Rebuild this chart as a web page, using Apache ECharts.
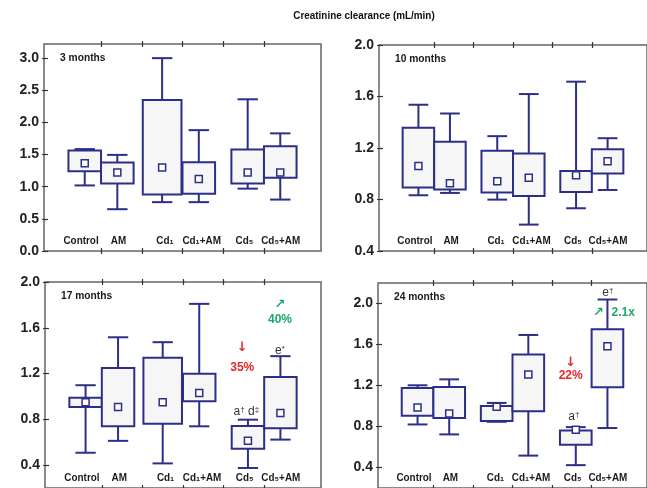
<!DOCTYPE html>
<html><head><meta charset="utf-8">
<script src="https://cdn.jsdelivr.net/npm/echarts@6/dist/echarts.min.js"></script>
<style>html,body{margin:0;padding:0;background:#fff}#c{width:647px;height:488px}</style>
</head><body><div id="c"></div>
<script>
// ---------- data ----------
const chartTitle = 'Creatinine clearance (mL/min)';
const panelNames = ['3 months', '10 months', '17 months', '24 months'];
const groups = ['Control', 'AM', 'Cd\u2081', 'Cd\u2081+AM', 'Cd\u2085', 'Cd\u2085+AM'];
// each row: [min, Q1, Q3, max, marker]
const m3 = [
  [1.02, 1.24, 1.565, 1.585, 1.365],
  [0.65, 1.05, 1.375, 1.495, 1.22],
  [0.76, 0.88, 2.35, 3.00, 1.30],
  [0.76, 0.89, 1.38, 1.88, 1.12],
  [0.97, 1.05, 1.58, 2.36, 1.22],
  [0.80, 1.14, 1.63, 1.83, 1.22]
];
const m10 = [
  [0.833, 0.893, 1.357, 1.536, 1.061],
  [0.851, 0.877, 1.248, 1.468, 0.926],
  [0.799, 0.854, 1.178, 1.292, 0.942],
  [0.605, 0.828, 1.157, 1.619, 0.968],
  [0.732, 0.859, 1.022, 1.715, 0.989],
  [0.874, 1.002, 1.191, 1.276, 1.098]
];
const m17 = [
  [0.508, 0.907, 0.988, 1.098, 0.950],
  [0.612, 0.739, 1.248, 1.517, 0.907],
  [0.415, 0.762, 1.338, 1.474, 0.950],
  [0.739, 0.959, 1.199, 1.809, 1.031],
  [0.375, 0.543, 0.742, 0.797, 0.612],
  [0.623, 0.722, 1.170, 1.352, 0.855]
];
const m24 = [
  [0.820, 0.904, 1.176, 1.202, 0.985],
  [0.723, 0.882, 1.186, 1.260, 0.927],
  [0.846, 0.853, 1.001, 1.030, 0.992],
  [0.516, 0.950, 1.502, 1.693, 1.308],
  [0.423, 0.623, 0.762, 0.794, 0.769],
  [0.785, 1.182, 1.748, 2.039, 1.583]
];
const yTicks3m = [0, 0.5, 1.0, 1.5, 2.0, 2.5, 3.0];
const yTicksLater = [0.4, 0.8, 1.2, 1.6, 2.0];
const xTicks = [1, 2, 3, 4, 5];
// annotations: [text, kind]
const notes17 = [['\u2193', 'down'], ['35%', 'down'], ['\u2197', 'up'], ['40%', 'up'], ['e*', 'sig'], ['a\u2020 d\u2021', 'sig']];
const notes24 = [['e\u2020', 'sig'], ['\u2197', 'up'], ['2.1x', 'up'], ['\u2193', 'down'], ['22%', 'down'], ['a\u2020', 'sig']];

// ---------- layout / style ----------
const notePos17 = [[4.46, 1.43], [4.46, 1.253], [5.39, 1.80], [5.39, 1.67], [5.39, 1.40], [4.56, 0.863]];
const notePos24 = [[5.41, 2.107], [5.17, 1.913], [5.80, 1.913], [4.47, 1.42], [4.47, 1.292], [4.55, 0.894]];
const labelPos = [0.51, 1.43, 2.57, 3.47, 4.52, 5.41];
const NAVY = '#2b2f88';
const FONT = "'Liberation Sans',Arial,sans-serif";
const panels = [
  {rows: m3,  yTicks: yTicks3m,    ymin: 0,   ymax: 3.22, left: 44,  top: 44,  width: 277, height: 207, notes: [], pos: [], wide: true},
  {rows: m10, yTicks: yTicksLater, ymin: 0.4, ymax: 2.0,  left: 379, top: 45,  width: 275, height: 206, notes: [], pos: [], wide: false},
  {rows: m17, yTicks: yTicksLater, ymin: 0.2, ymax: 2.0,  left: 45,  top: 282, width: 276, height: 207, notes: notes17, pos: notePos17, wide: true},
  {rows: m24, yTicks: yTicksLater, ymin: 0.2, ymax: 2.2,  left: 378, top: 283, width: 276, height: 206, notes: notes24, pos: notePos24, wide: false}
];
const noteColor = {down: '#e3262b', up: '#1ea86a', sig: '#333'};

function boxX(i) { return (Math.floor(i / 2) * 2 + 1) + (i % 2 ? 0.4 : -0.4); }

function renderBox(params, api) {
  const x = api.value(0), lo = api.value(1), q1 = api.value(2), q3 = api.value(3), hi = api.value(4), mk = api.value(5), w = api.value(6);
  const cx = api.coord([x, q1])[0];
  const yLo = api.coord([x, lo])[1], yQ1 = api.coord([x, q1])[1], yQ3 = api.coord([x, q3])[1], yHi = api.coord([x, hi])[1], yMk = api.coord([x, mk])[1];
  const hw = api.size([w, 0])[0] / 2, cw = api.size([0.5, 0])[0] / 2;
  const ls = {stroke: NAVY, lineWidth: 2};
  return {type: 'group', children: [
    {type: 'line', shape: {x1: cx, y1: yQ3, x2: cx, y2: yHi}, style: ls},
    {type: 'line', shape: {x1: cx - cw, y1: yHi, x2: cx + cw, y2: yHi}, style: ls},
    {type: 'line', shape: {x1: cx, y1: yQ1, x2: cx, y2: yLo}, style: ls},
    {type: 'line', shape: {x1: cx - cw, y1: yLo, x2: cx + cw, y2: yLo}, style: ls},
    {type: 'rect', shape: {x: cx - hw, y: yQ3, width: 2 * hw, height: yQ1 - yQ3}, style: {fill: '#f6f6f6', stroke: NAVY, lineWidth: 2}},
    {type: 'rect', shape: {x: cx - 3.5, y: yMk - 3.5, width: 7, height: 7}, style: {fill: '#fff', stroke: NAVY, lineWidth: 1.5}}
  ]};
}

const grid = [], xAxis = [], yAxis = [], series = [], graphic = [];
graphic.push({type: 'text', x: 364, y: 16, scaleX: 0.9, style: {text: chartTitle, font: 'bold 11px ' + FONT, fill: '#111', align: 'center', verticalAlign: 'middle'}});

panels.forEach((p, gi) => {
  grid.push({left: p.left, top: p.top, width: p.width, height: p.height, show: true, borderColor: '#666', borderWidth: 1.5, backgroundColor: '#fff'});
  const xa0 = xAxis.length;
  [['bottom', true], ['bottom', false], ['top', true], ['top', false]].forEach(([pos, inside]) => {
    xAxis.push({gridIndex: gi, type: 'value', min: -0.4, max: 6.4, position: pos,
      axisLine: {show: false, onZero: false}, splitLine: {show: false}, axisLabel: {show: false},
      axisTick: {show: true, inside: inside, length: 3, customValues: xTicks, lineStyle: {color: '#333', width: 1.2}}});
  });
  const ya0 = yAxis.length;
  yAxis.push({gridIndex: gi, type: 'value', min: p.ymin, max: p.ymax, position: 'left',
    axisLine: {show: false, onZero: false}, splitLine: {show: false},
    axisTick: {show: true, inside: true, length: 4, customValues: p.yTicks, lineStyle: {color: '#333', width: 1.2}},
    axisLabel: {customValues: p.yTicks, formatter: v => Number(v).toFixed(1), fontFamily: FONT, fontWeight: 'bold', fontSize: 14, color: '#222', margin: 5}});
  yAxis.push({gridIndex: gi, type: 'value', min: p.ymin, max: p.ymax, position: 'left', offset: 0,
    axisLine: {show: false, onZero: false}, splitLine: {show: false}, axisLabel: {show: false},
    axisTick: {show: true, inside: false, length: 2, customValues: p.yTicks, lineStyle: {color: '#333', width: 1.2}}});

  series.push({type: 'custom', xAxisIndex: xa0, yAxisIndex: ya0, clip: false, renderItem: renderBox,
    data: p.rows.map((r, i) => {
      const wide = p.wide && i === 2;
      return [wide ? 2.5 : boxX(i), r[0], r[1], r[2], r[3], r[4], wide ? 0.95 : 0.8];
    })});

  series.push({type: 'custom', xAxisIndex: xa0, yAxisIndex: ya0, clip: false,
    renderItem: (params, api) => {
      const pt = api.coord([api.value(0), api.value(1)]);
      return {type: 'text', x: pt[0], y: pt[1] - 10, scaleX: 0.9, style: {text: groups[api.value(2)], font: 'bold 11px ' + FONT, fill: '#1a1a1a', align: 'center', verticalAlign: 'middle'}};
    },
    data: groups.map((g, i) => [labelPos[i], p.ymin, i])});

  if (p.notes.length) {
    series.push({type: 'custom', xAxisIndex: xa0, yAxisIndex: ya0, clip: false,
      renderItem: (params, api) => {
        const n = p.notes[api.value(2)];
        const pt = api.coord([api.value(0), api.value(1)]);
        const col = noteColor[n[1]];
        const isSig = n[1] === 'sig';
        const isArrow = n[0].length === 1;
        let txt = n[0];
        if (isSig) txt = n[0].replace(/([a-z])([\u2020\u2021*])/g, '{n|$1}{s|$2}');
        return {type: 'text', x: pt[0], y: pt[1], style: {
          text: txt, fill: col, align: 'center', verticalAlign: 'middle',
          font: (isSig ? '' : 'bold ') + (isArrow ? "13px 'DejaVu Sans',sans-serif" : '12px ' + FONT),
          rich: {n: {fontSize: 12, fontFamily: FONT, fill: col}, s: {fontSize: 8, fontFamily: FONT, fill: col, verticalAlign: 'top'}}
        }};
      },
      data: p.pos.map((q, i) => [q[0], q[1], i])});
  }

  graphic.push({type: 'text', x: p.left + 16, y: p.top + 14, scaleX: 0.93, style: {text: panelNames[gi], font: 'bold 11px ' + FONT, fill: '#1a1a1a', align: 'left', verticalAlign: 'middle'}});
});

const chart = echarts.init(document.getElementById('c'), null, {renderer: 'canvas'});
chart.setOption({animation: false, backgroundColor: '#fff', grid, xAxis, yAxis, series, graphic});
</script>
</body></html>
